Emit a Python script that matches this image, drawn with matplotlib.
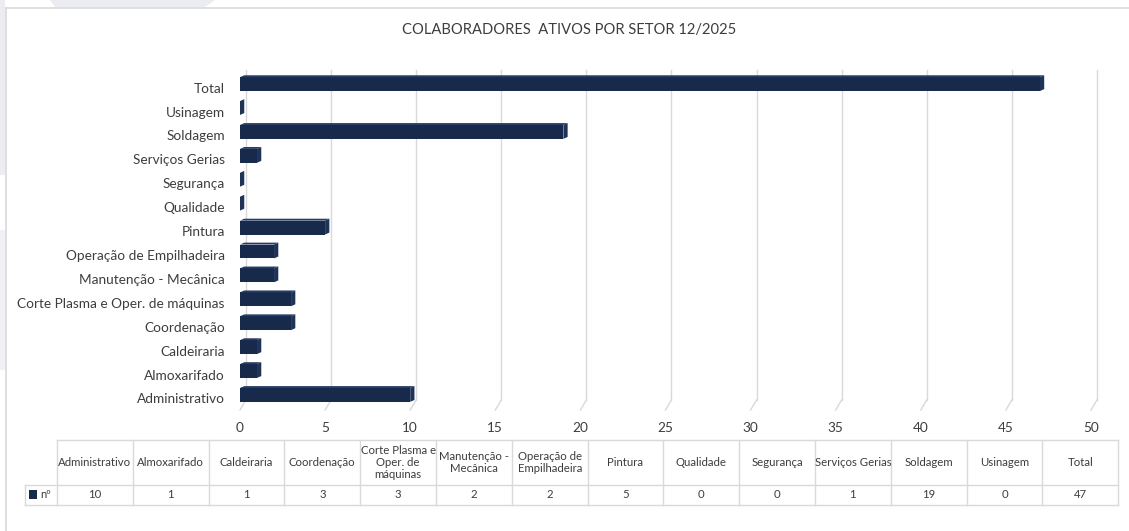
import matplotlib
matplotlib.use("Agg")
import matplotlib.pyplot as plt
from matplotlib.patches import Polygon, Rectangle
from matplotlib.transforms import ScaledTranslation

plt.rcParams['font.family'] = ['Lato', 'DejaVu Sans']

# ---- data ----
categories = ["Administrativo", "Almoxarifado", "Caldeiraria", "Coordenação",
              "Corte Plasma e Oper. de máquinas", "Manutenção - Mecânica",
              "Operação de Empilhadeira", "Pintura", "Qualidade", "Segurança",
              "Serviços Gerias", "Soldagem", "Usinagem", "Total"]
values = [10, 1, 1, 3, 3, 2, 2, 5, 0, 0, 1, 19, 0, 47]
table_headers = ["Administrativo", "Almoxarifado", "Caldeiraria", "Coordenação",
                 "Corte Plasma e\nOper. de\nmáquinas", "Manutenção -\nMecânica",
                 "Operação de\nEmpilhadeira", "Pintura", "Qualidade", "Segurança",
                 "Serviços Gerias", "Soldagem", "Usinagem", "Total"]
x_ticks = [0, 5, 10, 15, 20, 25, 30, 35, 40, 45, 50]
series_name = "nº"
title = "COLABORADORES  ATIVOS POR SETOR 12/2025"

# ---- style ----
W, H = 1129, 531
NAVY = "#172a4c"
CAP = "#1f3359"
TOPF = "#273d66"
GRID = "#d9d9d9"
TXT = "#3d3d3d"

fig = plt.figure(figsize=(W / 100, H / 100), dpi=100)
fig.patch.set_facecolor("white")

# overlay axes in pixel coordinates (border, title, table)
ov = fig.add_axes([0, 0, 1, 1])
ov.set_xlim(0, W)
ov.set_ylim(H, 0)
ov.axis("off")

# faint background watermark outside the chart frame
ov.add_patch(Polygon([(50, 0), (215, 0), (205, 7), (55, 7)], closed=True,
                     facecolor="#ebebf2", edgecolor="none"))
ov.add_patch(Rectangle((0, 0), 5, 175, facecolor="#ececf2", edgecolor="none"))
ov.add_patch(Rectangle((0, 230), 5, 140, facecolor="#f1f1f5", edgecolor="none"))

# chart frame (extends past right and bottom edges)
ov.plot([6, W + 5], [7.5, 7.5], color=GRID, lw=1.2)
ov.plot([6, 6], [7.5, H + 5], color=GRID, lw=1.2)
ov.text(569, 30, title, ha="center", va="center", fontsize=10.6, color=TXT)

# main chart axes
def fx(px):
    return px / W

def fy(py):
    return 1 - py / H

ax = fig.add_axes([fx(240), fy(410), (1091 - 240) / W, (410 - 70) / H])
ax.patch.set_alpha(0)
ax.set_xlim(0, 50)
ylo, yhi = -0.63, 13.59
ax.set_ylim(ylo, yhi)
for s in ax.spines.values():
    s.set_visible(False)

ypos = list(range(len(categories)))
h = 0.58
gdx = 0.35          # back wall offset (x units)
ybb = ylo + 0.42    # back wall bottom
cdx, cdy = 0.25, 0.08

for t in x_ticks:
    ax.plot([t + gdx, t + gdx], [ybb, yhi], color=GRID, lw=1, zorder=1, clip_on=False)
    ax.plot([t + gdx, t], [ybb, ylo], color=GRID, lw=1, zorder=1, clip_on=False)

ax.barh(ypos, values, height=h, color=NAVY, zorder=3)
for y, v in zip(ypos, values):
    # top face
    ax.add_patch(Polygon([(0, y + h / 2), (cdx, y + h / 2 + cdy), (v + cdx, y + h / 2 + cdy), (v, y + h / 2)],
                         closed=True, facecolor=TOPF, edgecolor="none", zorder=3))
    # end cap
    ax.add_patch(Polygon([(v, y - h / 2), (v + cdx, y - h / 2 + cdy), (v + cdx, y + h / 2 + cdy), (v, y + h / 2)],
                         closed=True, facecolor=CAP, edgecolor="none", zorder=3))

ax.set_yticks(ypos)
ax.set_yticklabels(categories, fontsize=9.8, color=TXT)
ax.set_xticks(x_ticks)
ax.set_xticklabels([str(t) for t in x_ticks], fontsize=9.8, color=TXT)
ax.tick_params(axis="both", length=0)
ax.tick_params(axis="y", pad=11)
ax.tick_params(axis="x", pad=9)
shift = ScaledTranslation(0, -0.035, fig.dpi_scale_trans)
for lbl in ax.get_yticklabels():
    lbl.set_transform(lbl.get_transform() + shift)

# ---- data table ----
x0, cw = 57, 75.8
y_top, y_mid, y_bot = 440, 485, 505
n = len(categories)
x_end = x0 + n * cw
ov.plot([x0, x_end], [y_top, y_top], color=GRID, lw=1)
ov.plot([25, x_end], [y_mid, y_mid], color=GRID, lw=1)
ov.plot([25, x_end], [y_bot, y_bot], color=GRID, lw=1)
ov.plot([25, 25], [y_mid, y_bot], color=GRID, lw=1)
for i in range(n + 1):
    xx = x0 + i * cw
    ov.plot([xx, xx], [y_top, y_bot], color=GRID, lw=1)
for i, (lab, v) in enumerate(zip(table_headers, values)):
    cx = x0 + (i + 0.5) * cw
    ov.text(cx, (y_top + y_mid) / 2, lab, ha="center", va="center", fontsize=8.2,
            color=TXT, linespacing=1.12)
    ov.text(cx, (y_mid + y_bot) / 2, str(v), ha="center", va="center", fontsize=8.2, color=TXT)
ov.add_patch(Rectangle((29, 490), 8, 9, facecolor=NAVY, edgecolor="none"))
ov.text(40, (y_mid + y_bot) / 2, series_name, ha="left", va="center", fontsize=8.2, color=TXT)

fig.savefig("out.png", dpi=100)
